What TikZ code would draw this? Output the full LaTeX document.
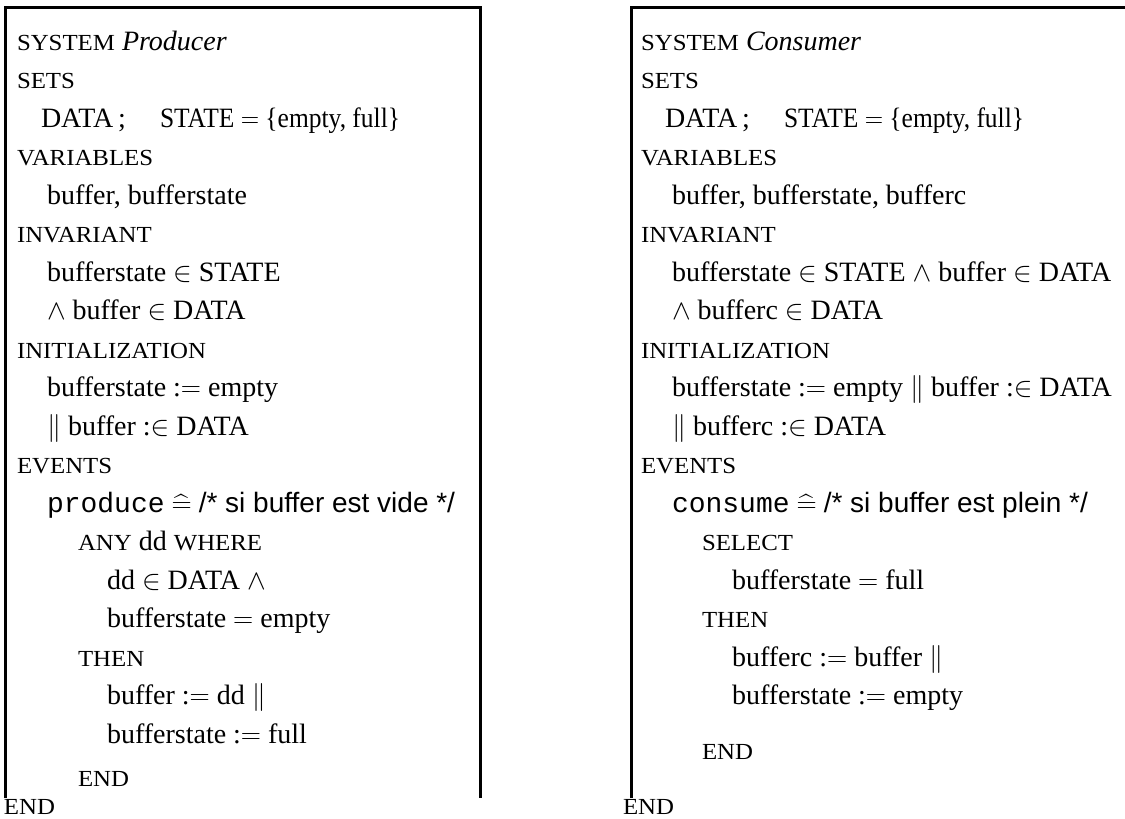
\RequirePackage{fix-cm}
\documentclass[tikz,border=0pt]{standalone}
\usepackage{amsmath}
\usepackage{fontspec}
\setmainfont{Liberation Serif}
\setsansfont{Liberation Sans}
\setmonofont{Liberation Mono}
\newfontfamily\scf[FakeStretch=1.08]{Liberation Serif}
\newcommand{\kw}[1]{{\scf\fontsize{23}{28}\selectfont #1}}
\newcommand{\hateq}{\mathrel{\widehat{=}}}
\newcommand{\asg}{:$=$}
\newcommand{\bin}{:$\in$}
\begin{document}
\begin{tikzpicture}[x=1pt,y=-1pt,
  txt/.style={anchor=base west, inner sep=0pt, outer sep=0pt, font=\fontsize{28}{34}\selectfont},
  frame/.style={line width=3pt, line join=miter}]
\useasboundingbox (0,0) rectangle (1125,819);
% frames
\draw[frame] (5.5,798) -- (5.5,7) -- (480,7) -- (480,798);
\draw[frame] (631,798) -- (631,7) -- (1130,7);
% ---------- Producer ----------
\node[txt] (l0) at (17,{50+38.5*0}) {\kw{SYSTEM} \textit{Producer}};
\node[txt] (l1) at (17,{50+38.5*1}) {\kw{SETS}};
\node[txt] (l2) at (41,{50+38.5*2}) {DATA\,;};
\node[txt, xscale=0.91] (l2b) at (160,{50+38.5*2}) {STATE $=$ \{empty, full\}};
\node[txt] (l3) at (17,{50+38.5*3}) {\kw{VARIABLES}};
\node[txt] (l4) at (47,{50+38.5*4}) {buffer, bufferstate};
\node[txt] (l5) at (17,{50+38.5*5}) {\kw{INVARIANT}};
\node[txt] (l6) at (47,{50+38.5*6}) {bufferstate $\in$ STATE};
\node[txt] (l7) at (47,{50+38.5*7}) {$\wedge$ buffer $\in$ DATA};
\node[txt] (l8) at (17,{50+38.5*8}) {\kw{INITIALIZATION}};
\node[txt] (l9) at (47,{50+38.5*9}) {bufferstate \asg{} empty};
\node[txt] (l10) at (47,{50+38.5*10}) {$\|$ buffer \bin{} DATA};
\node[txt] (l11) at (17,{50+38.5*11}) {\kw{EVENTS}};
\node[txt] (l12) at (47,{50+38.5*12}) {\texttt{produce} $\hateq$ \textsf{/* si buffer est vide */}};
\node[txt] (l13) at (78,{50+38.5*13}) {\kw{ANY} dd \kw{WHERE}};
\node[txt] (l14) at (107,{50+38.5*14}) {dd $\in$ DATA $\wedge$};
\node[txt] (l15) at (107,{50+38.5*15}) {bufferstate $=$ empty};
\node[txt] (l16) at (78,{50+38.5*16}) {\kw{THEN}};
\node[txt] (l17) at (107,{50+38.5*17}) {buffer \asg{} dd $\|$};
\node[txt] (l18) at (107,{50+38.5*18}) {bufferstate \asg{} full};
\node[txt] (l19) at (78,786) {\kw{END}};
\node[txt] (l20) at (4,814) {\kw{END}};
% ---------- Consumer ----------
\node[txt] (r0) at (641,{50+38.5*0}) {\kw{SYSTEM} \textit{Consumer}};
\node[txt] (r1) at (641,{50+38.5*1}) {\kw{SETS}};
\node[txt] (r2) at (665,{50+38.5*2}) {DATA\,;};
\node[txt, xscale=0.91] (r2b) at (784,{50+38.5*2}) {STATE $=$ \{empty, full\}};
\node[txt] (r3) at (641,{50+38.5*3}) {\kw{VARIABLES}};
\node[txt] (r4) at (672,{50+38.5*4}) {buffer, bufferstate, bufferc};
\node[txt] (r5) at (641,{50+38.5*5}) {\kw{INVARIANT}};
\node[txt] (r6) at (672,{50+38.5*6}) {bufferstate $\in$ STATE $\wedge$ buffer $\in$ DATA};
\node[txt] (r7) at (672,{50+38.5*7}) {$\wedge$ bufferc $\in$ DATA};
\node[txt] (r8) at (641,{50+38.5*8}) {\kw{INITIALIZATION}};
\node[txt] (r9) at (672,{50+38.5*9}) {bufferstate \asg{} empty $\|$ buffer \bin{} DATA};
\node[txt] (r10) at (672,{50+38.5*10}) {$\|$ bufferc \bin{} DATA};
\node[txt] (r11) at (641,{50+38.5*11}) {\kw{EVENTS}};
\node[txt] (r12) at (672,{50+38.5*12}) {\texttt{consume} $\hateq$ \textsf{/* si buffer est plein */}};
\node[txt] (r13) at (702,{50+38.5*13}) {\kw{SELECT}};
\node[txt] (r14) at (732,{50+38.5*14}) {bufferstate $=$ full};
\node[txt] (r15) at (702,{50+38.5*15}) {\kw{THEN}};
\node[txt] (r16) at (732,{50+38.5*16}) {bufferc \asg{} buffer $\|$};
\node[txt] (r17) at (732,{50+38.5*17}) {bufferstate \asg{} empty};
\node[txt] (r18) at (702,759) {\kw{END}};
\node[txt] (r19) at (623,814) {\kw{END}};
\end{tikzpicture}
\end{document}
